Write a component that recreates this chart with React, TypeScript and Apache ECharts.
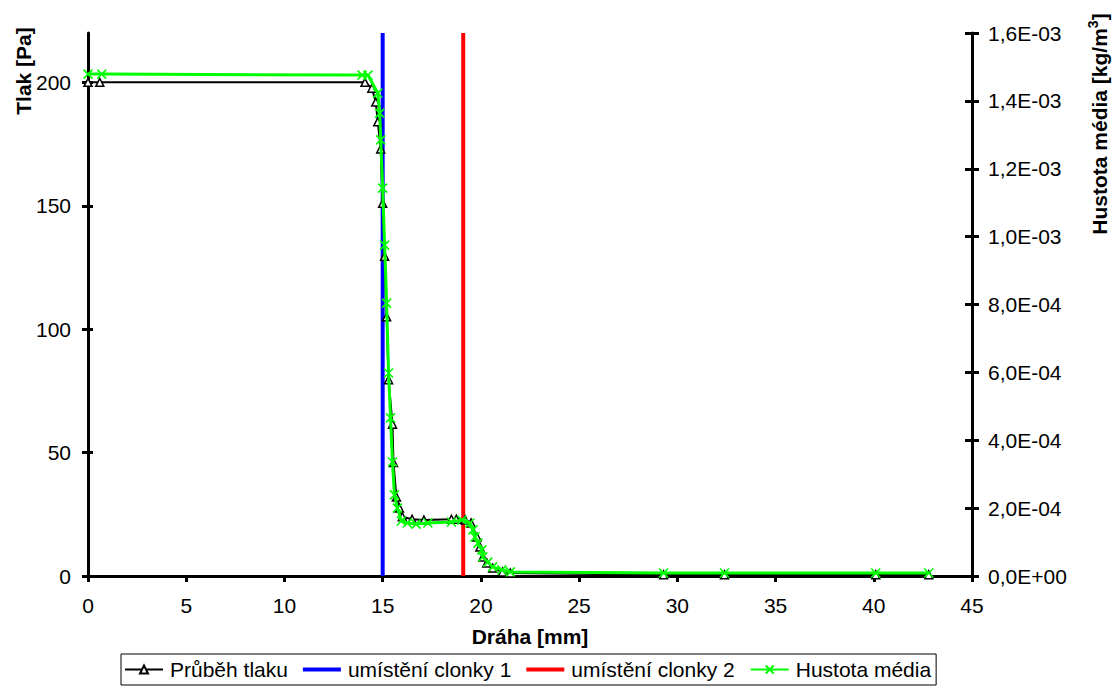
import React, { useEffect, useRef } from "react";
import * as echarts from "echarts";

// Průběh tlaku [Pa] vs dráha [mm]
const pressureX = [0, 0.6, 14.1, 14.45, 14.65, 14.75, 14.9, 15.0, 15.1, 15.2, 15.3, 15.5, 15.55, 15.7, 15.85, 16.0, 16.5, 17.1, 18.5, 18.75, 19.2, 19.5, 19.8, 19.95, 20.1, 20.3, 20.6, 21.1, 21.5, 29.3, 32.4, 40.1, 42.8];
const pressureY = [200, 200, 200, 197.6, 192, 184, 173, 151, 129.5, 105, 79.5, 61.5, 46, 32, 27.6, 24, 23, 22.7, 23, 23, 22.7, 21.5, 15.8, 11.8, 7.7, 5.3, 3.2, 1.6, 1.2, 0.5, 0.5, 0.5, 0.5];

// Hustota média [kg/m3] vs dráha [mm]
const densityX = [0, 0.7, 13.95, 14.25, 14.75, 14.85, 14.9, 15.0, 15.1, 15.2, 15.3, 15.4, 15.5, 15.6, 15.75, 15.95, 16.25, 16.7, 17.3, 18.5, 19.03, 19.44, 19.6, 19.7, 19.85, 20.05, 20.1, 20.35, 20.6, 21.07, 21.5, 29.3, 32.4, 40.1, 42.8];
const densityY = [1.479e-3, 1.479e-3, 1.476e-3, 1.476e-3, 1.423e-3, 1.364e-3, 1.285e-3, 1.143e-3, 0.975e-3, 0.804e-3, 0.598e-3, 0.466e-3, 0.336e-3, 0.239e-3, 0.200e-3, 0.162e-3, 0.156e-3, 0.153e-3, 0.156e-3, 0.159e-3, 0.165e-3, 0.156e-3, 0.136e-3, 0.115e-3, 0.097e-3, 0.077e-3, 0.056e-3, 0.041e-3, 0.027e-3, 0.018e-3, 0.012e-3, 0.0088e-3, 0.0088e-3, 0.0088e-3, 0.0088e-3];

// Umístění clonek [mm]
const clonka1X = 15;
const clonka2X = 19.1;

const leftTicks = [0, 50, 100, 150, 200];
const seriesNames = ["Průběh tlaku", "umístění clonky 1", "umístění clonky 2", "Hustota média"];

const FONT = "'Liberation Sans', Arial, sans-serif";
const FS = 21;

function fmtExp(v: number): string {
  if (v === 0) return "0,0E+00";
  const s = v.toExponential(1);
  const [m, e] = s.split("e");
  const ev = parseInt(e, 10);
  const sign = ev < 0 ? "-" : "+";
  const abs = Math.abs(ev);
  return m.replace(".", ",") + "E" + sign + (abs < 10 ? "0" + abs : String(abs));
}

export default function App() {
  const ref = useRef<HTMLDivElement>(null);
  useEffect(() => {
    if (!ref.current) return;
    const chart = echarts.init(ref.current, null, { renderer: "svg" });
    const pressure = pressureX.map((x, i) => [x, pressureY[i]]);
    const density = densityX.map((x, i) => [x, densityY[i]]);
    const axisLineStyle = { color: "#000", width: 3 };
    const barIcon = "path://M0,0H38V4H0Z";
    chart.setOption({
      animation: false,
      backgroundColor: "#fff",
      textStyle: { fontFamily: FONT },
      grid: { left: 88, right: 142, top: 33, bottom: 112, containLabel: false },
      legend: {
        data: [
          { name: seriesNames[0] },
          { name: seriesNames[1], icon: barIcon },
          { name: seriesNames[2], icon: barIcon },
          { name: seriesNames[3] },
        ],
        top: 654,
        left: 121,
        borderColor: "#000",
        borderWidth: 1,
        padding: [5, 5, 5, 3],
        itemGap: 15,
        itemWidth: 38,
        itemHeight: 10,
        symbolKeepAspect: true,
        textStyle: { fontSize: FS, color: "#000", fontFamily: FONT, padding: [0, 0, 0, 2] },
      },
      xAxis: {
        type: "value",
        min: 0,
        max: 45,
        interval: 5,
        axisLine: { lineStyle: axisLineStyle },
        axisTick: { show: true, inside: false, length: 6, lineStyle: { color: "#000", width: 3 } },
        axisLabel: { fontSize: FS, color: "#000", margin: 19, fontFamily: FONT },
        splitLine: { show: false },
      },
      yAxis: [
        {
          type: "value",
          min: 0,
          max: 220,
          interval: 50,
          position: "left",
          axisLine: { show: true, lineStyle: axisLineStyle },
          axisTick: { show: true, inside: false, length: 6, customValues: leftTicks, lineStyle: { color: "#000", width: 3 } },
          axisLabel: { fontSize: FS, color: "#000", margin: 17, customValues: leftTicks, fontFamily: FONT },
          splitLine: { show: false },
        },
        {
          type: "value",
          min: 0,
          max: 1.6e-3,
          interval: 2e-4,
          position: "right",
          axisLine: { show: true, lineStyle: axisLineStyle },
          axisTick: { show: true, inside: false, length: 7, lineStyle: { color: "#000", width: 3 } },
          axisLabel: { fontSize: FS, color: "#000", margin: 16, formatter: (v: number) => fmtExp(v), fontFamily: FONT },
          splitLine: { show: false },
        },
        {
          type: "value",
          min: 0,
          max: 220,
          interval: 50,
          position: "left",
          axisLine: { show: false },
          axisTick: { show: true, inside: true, length: 5, customValues: leftTicks, lineStyle: { color: "#000", width: 3 } },
          axisLabel: { show: false },
          splitLine: { show: false },
        },
        {
          type: "value",
          min: 0,
          max: 1.6e-3,
          interval: 2e-4,
          position: "right",
          axisLine: { show: false },
          axisTick: { show: true, inside: true, length: 7, lineStyle: { color: "#000", width: 3 } },
          axisLabel: { show: false },
          splitLine: { show: false },
        },
      ],
      series: [
        {
          name: seriesNames[1],
          type: "line",
          yAxisIndex: 0,
          data: [[clonka1X, 0], [clonka1X, 220]],
          symbol: "none",
          lineStyle: { color: "#0000ff", width: 4 },
          itemStyle: { color: "#0000ff" },
          z: 2,
        },
        {
          name: seriesNames[2],
          type: "line",
          yAxisIndex: 0,
          data: [[clonka2X, 0], [clonka2X, 220]],
          symbol: "none",
          lineStyle: { color: "#ff0000", width: 4 },
          itemStyle: { color: "#ff0000" },
          z: 2,
        },
        {
          name: seriesNames[0],
          type: "line",
          yAxisIndex: 0,
          data: pressure,
          symbol: "triangle",
          symbolSize: 8,
          showAllSymbol: true,
          lineStyle: { color: "#000", width: 2 },
          itemStyle: { color: "#fff", borderColor: "#000", borderWidth: 1.5 },
          z: 3,
        },
        {
          name: seriesNames[3],
          type: "line",
          yAxisIndex: 1,
          data: density,
          symbol: "path://M0,0L10,10M10,0L0,10",
          symbolSize: 9,
          showAllSymbol: true,
          lineStyle: { color: "#00ff00", width: 3 },
          itemStyle: { color: "#00ff00", borderColor: "#00ff00", borderWidth: 1.6 },
          z: 4,
        },
      ],
      graphic: [
        {
          type: "text",
          x: 23,
          y: 71,
          rotation: Math.PI / 2,
          style: {
            text: "Tlak [Pa]",
            fontSize: FS,
            fontWeight: "bold",
            fontFamily: FONT,
            fill: "#000",
            align: "center",
            verticalAlign: "middle",
          },
        },
        {
          type: "text",
          x: 1099,
          y: 124,
          rotation: Math.PI / 2,
          style: {
            text: "{a|Hustota média [kg/m}{s|3}{a|]}",
            fontFamily: FONT,
            fill: "#000",
            align: "center",
            verticalAlign: "middle",
            rich: {
              a: { fontSize: FS, fontWeight: "bold", fontFamily: FONT, fill: "#000" },
              s: { fontSize: 14, fontWeight: "bold", fontFamily: FONT, fill: "#000", padding: [0, 0, 12, 0] },
            },
          },
        },
        {
          type: "text",
          x: 530,
          y: 636,
          style: {
            text: "Dráha [mm]",
            fontSize: FS,
            fontWeight: "bold",
            fontFamily: FONT,
            fill: "#000",
            align: "center",
            verticalAlign: "middle",
          },
        },
      ],
    });
    return () => chart.dispose();
  }, []);
  return <div ref={ref} style={{ position: "absolute", left: 0, top: 0, width: 1114, height: 688 }} />;
}
